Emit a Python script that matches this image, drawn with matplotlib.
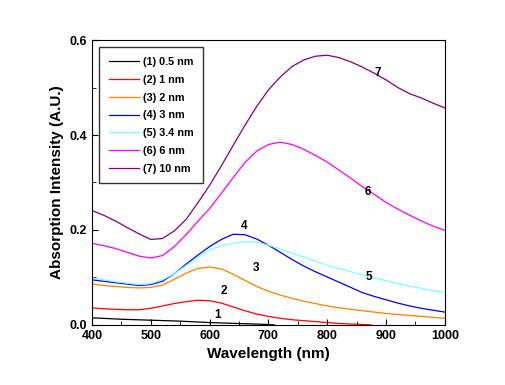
import matplotlib
matplotlib.use("Agg")
import matplotlib.pyplot as plt
from matplotlib.ticker import MultipleLocator

plt.rcParams['font.family'] = ['Liberation Sans', 'DejaVu Sans']
plt.rcParams['font.weight'] = 'bold'

# wavelength grid (nm)
wl = [400, 420, 440, 460, 480, 500, 520, 540, 560, 580, 600, 620, 640, 660,
      680, 700, 720, 740, 760, 780, 800, 820, 840, 860, 880, 900, 920, 940,
      960, 980, 1000]
wl_red = [400, 420, 440, 460, 480, 500, 520, 540, 560, 580, 600, 620, 640,
          660, 680, 700, 720, 740, 760, 780, 800, 820, 840, 860, 875]
wl_black = [400, 450, 500, 550, 600, 650, 700, 710]

# absorption values
a1 = [0.015, 0.012, 0.010, 0.008, 0.005, 0.003, 0.001, 0.0]
a2 = [0.036, 0.034, 0.033, 0.032, 0.032, 0.035, 0.040, 0.045, 0.049, 0.052,
      0.051, 0.046, 0.038, 0.030, 0.023, 0.018, 0.014, 0.011, 0.009, 0.007,
      0.005, 0.003, 0.002, 0.001, 0.0]
a3 = [0.086, 0.083, 0.081, 0.079, 0.078, 0.079, 0.084, 0.096, 0.109, 0.119,
      0.122, 0.118, 0.107, 0.094, 0.081, 0.071, 0.063, 0.056, 0.050, 0.045,
      0.040, 0.036, 0.033, 0.030, 0.027, 0.024, 0.022, 0.020, 0.018, 0.016,
      0.014]
a4 = [0.095, 0.092, 0.089, 0.086, 0.083, 0.085, 0.092, 0.108, 0.128, 0.147,
      0.165, 0.180, 0.191, 0.190, 0.181, 0.168, 0.153, 0.138, 0.124, 0.112,
      0.101, 0.090, 0.079, 0.068, 0.060, 0.053, 0.046, 0.040, 0.035, 0.031,
      0.027]
a5 = [0.099, 0.095, 0.091, 0.088, 0.085, 0.087, 0.095, 0.108, 0.125, 0.142,
      0.158, 0.167, 0.172, 0.175, 0.174, 0.168, 0.160, 0.151, 0.143, 0.134,
      0.126, 0.119, 0.112, 0.105, 0.099, 0.093, 0.087, 0.082, 0.077, 0.072,
      0.068]
a6 = [0.172, 0.167, 0.161, 0.153, 0.145, 0.141, 0.146, 0.165, 0.190, 0.218,
      0.245, 0.277, 0.310, 0.342, 0.366, 0.380, 0.385, 0.380, 0.370, 0.357,
      0.343, 0.326, 0.309, 0.291, 0.275, 0.258, 0.244, 0.231, 0.219, 0.208,
      0.199]
a7 = [0.241, 0.231, 0.219, 0.205, 0.192, 0.180, 0.182, 0.198, 0.222, 0.257,
      0.294, 0.335, 0.378, 0.420, 0.460, 0.495, 0.522, 0.544, 0.558, 0.566,
      0.568, 0.563, 0.554, 0.543, 0.530, 0.516, 0.500, 0.487, 0.478, 0.467,
      0.457]

labels = ['(1) 0.5 nm', '(2) 1 nm', '(3) 2 nm', '(4) 3 nm', '(5) 3.4 nm', '(6) 6 nm', '(7) 10 nm']
colors = ['black', 'red', '#ff8000', 'blue', '#80ffff', 'magenta', '#800080']
xs = [wl_black, wl_red, wl, wl, wl, wl, wl]
ys = [a1, a2, a3, a4, a5, a6, a7]

# curve number annotations
tags = ['1', '2', '3', '4', '5', '6', '7']
tag_x = [613, 624, 679, 658, 871, 869, 886]
tag_y = [0.021, 0.072, 0.12, 0.208, 0.102, 0.28, 0.53]

fig = plt.figure(figsize=(5.05, 3.85), dpi=100)
ax = fig.add_axes([0.182, 0.156, 0.699, 0.740])

for x, y, c, l in zip(xs, ys, colors, labels):
    ax.plot(x, y, color=c, lw=0.9, label=l)

for t, x, y in zip(tags, tag_x, tag_y):
    ax.text(x, y, t, fontsize=8.5, fontweight='bold', ha='center', va='center')

ax.set_xlim(400, 1000)
ax.set_ylim(0, 0.6)
ax.xaxis.set_major_locator(MultipleLocator(100))
ax.xaxis.set_minor_locator(MultipleLocator(50))
ax.yaxis.set_major_locator(MultipleLocator(0.2))
ax.yaxis.set_minor_locator(MultipleLocator(0.1))
ax.tick_params(which='both', direction='in', labelsize=9)
ax.tick_params(which='major', length=4)
ax.tick_params(which='minor', length=3)
for lab in ax.get_xticklabels() + ax.get_yticklabels():
    lab.set_fontweight('bold')
ax.set_xlabel('Wavelength (nm)', fontsize=11, fontweight='bold')
ax.set_ylabel('Absorption Intensity (A.U.)', fontsize=11, fontweight='bold')

leg = ax.legend(loc='upper left', fontsize=7.8, frameon=True, fancybox=False,
                edgecolor='black', handlelength=2.8, handletextpad=0.35,
                labelspacing=0.72, borderpad=0.9, borderaxespad=0,
                bbox_to_anchor=(0.02, 0.975))
leg.get_frame().set_linewidth(1.0)
for txt in leg.get_texts():
    txt.set_fontweight('bold')

fig.savefig('out.png', dpi=100)
